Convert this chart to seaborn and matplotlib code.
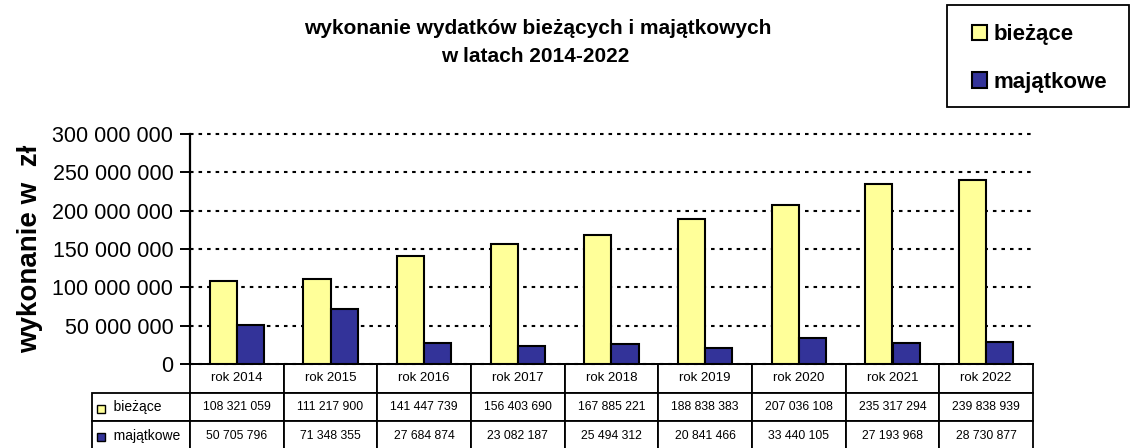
import pandas as pd
import matplotlib.pyplot as plt
import seaborn as sns
from matplotlib.patches import Rectangle

# === Data ===
years = ["rok 2014", "rok 2015", "rok 2016", "rok 2017", "rok 2018",
         "rok 2019", "rok 2020", "rok 2021", "rok 2022"]
biezace = [108321059, 111217900, 141447739, 156403690, 167885221,
           188838383, 207036108, 235317294, 239838939]
majatkowe = [50705796, 71348355, 27684874, 23082187, 25494312,
             20841466, 33440105, 27193968, 28730877]
series_names = ["bieżące", "majątkowe"]
colors = ["#FFFF99", "#333399"]

df = pd.DataFrame({"rok": years * 2,
                   "wartosc": biezace + majatkowe,
                   "seria": [series_names[0]] * len(years) + [series_names[1]] * len(years)})


def fmt(v):
    return f"{v:,}".replace(",", " ")


# === Style ===
sns.set_style("white")
plt.rcParams["font.family"] = ["Liberation Sans", "DejaVu Sans"]
plt.rcParams.update({"text.color": "black", "axes.labelcolor": "black",
                     "xtick.color": "black", "ytick.color": "black"})

W, H = 1131, 448
fig = plt.figure(figsize=(W / 100, H / 100), dpi=100)
# axes box in pixels: x 190..1033, y 134..364
ax = fig.add_axes([190 / W, 1 - 364 / H, (1033 - 190) / W, (364 - 134) / H])

sns.barplot(data=df, x="rok", y="wartosc", hue="seria", palette=colors,
            edgecolor="black", linewidth=1.5, width=0.58, ax=ax,
            saturation=1, legend=True)

ax.set_ylim(0, 300000000)
ax.set_yticks(range(0, 300000001, 50000000))
ax.set_yticklabels([fmt(v) for v in range(0, 300000001, 50000000)], fontsize=15.5)
ax.yaxis.grid(True, linestyle=(0, (1.7, 2.4)), color="black", linewidth=1.5)
for gl in ax.get_ygridlines():
    gl.set_clip_on(False)
ax.set_axisbelow(True)
ax.tick_params(axis="y", which="major", direction="out", length=7, width=1.4,
               pad=5, left=True, colors="black")
ax.tick_params(axis="x", bottom=False, labelbottom=False)
ax.set_xlabel("")
ax.set_ylabel("wykonanie w  zł", fontsize=20, fontweight="bold", labelpad=7)
for side in ["top", "right"]:
    ax.spines[side].set_visible(False)
ax.spines["left"].set_linewidth(1.6)
ax.spines["left"].set_color("black")
ax.spines["bottom"].set_linewidth(1.4)
ax.spines["bottom"].set_color("black")

# === Legend ===
handles, labels = ax.get_legend_handles_labels()
ax.get_legend().remove()
leg = fig.legend(handles, labels, loc="upper left",
                 bbox_to_anchor=(972 / W, 1 - 24 / H),
                 frameon=False, prop={"size": 16, "weight": "bold"},
                 handlelength=0.68, handleheight=0.68,
                 labelspacing=1.2, borderpad=0, handletextpad=0.28, borderaxespad=0)
fig.add_artist(Rectangle((947 / W, 1 - 107 / H), (1129 - 947) / W, (107 - 5) / H,
                         facecolor="none", edgecolor="black", linewidth=1.3,
                         transform=fig.transFigure))

# === Title ===
fig.text(538 / W, 1 - 29 / H, "wykonanie wydatków bieżących i majątkowych",
         ha="center", va="center", fontsize=15, fontweight="bold")
fig.text(535 / W, 1 - 57 / H, "w latach 2014-2022",
         ha="center", va="center", fontsize=15, fontweight="bold")

# === Data table ===
cell_text = [[fmt(v) for v in biezace], [fmt(v) for v in majatkowe]]
ax_w = 1033 - 190
ax_h = 364 - 134
label_w = (190 - 92) / ax_w
tbl = ax.table(cellText=cell_text, colLabels=years, cellLoc="center",
               colWidths=[1 / len(years)] * len(years),
               bbox=[0, -(450 - 364) / ax_h, 1, (450 - 364) / ax_h])
cell_h = tbl[(1, 0)].get_height()
for i, name in enumerate(series_names):
    tbl.add_cell(i + 1, -1, width=label_w, height=cell_h, text="   " + name, loc="left")
tbl.auto_set_font_size(False)
tbl.set_fontsize(8.8)
for (r, c), cell in tbl.get_celld().items():
    cell.set_linewidth(1.3)
    cell.set_edgecolor("black")
    if r == 0:
        cell.get_text().set_fontsize(9.5)
    if c == -1:
        cell.get_text().set_fontsize(10)

# small colour keys in the row labels
for i, col in enumerate(colors):
    yc = [409, 437][i]
    fig.add_artist(Rectangle((97 / W, 1 - (yc + 4) / H), 8 / W, 8 / H,
                             facecolor=col, edgecolor="black", linewidth=1.0,
                             transform=fig.transFigure))

plt.savefig("out.png", dpi=100)
